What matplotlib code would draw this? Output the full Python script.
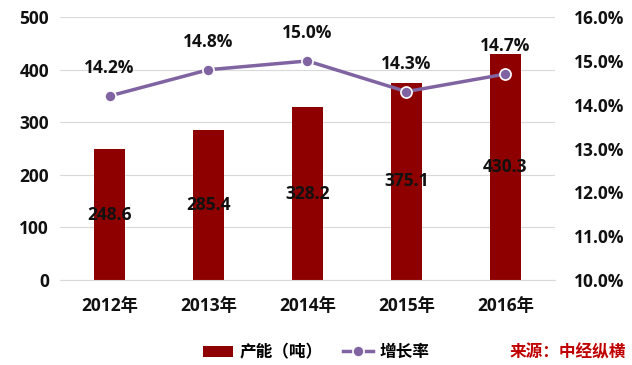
import matplotlib.pyplot as plt
import numpy as np

plt.rcParams["font.family"] = ["Open Sans", "Noto Sans CJK SC", "DejaVu Sans"]

years = ["2012年", "2013年", "2014年", "2015年", "2016年"]
capacity = [248.6, 285.4, 328.2, 375.1, 430.3]
growth = [14.2, 14.8, 15.0, 14.3, 14.7]

bar_color = "#8E0000"
line_color = "#8064A2"

fig = plt.figure(figsize=(6.32, 3.65), dpi=100)
ax = fig.add_axes([0.095, 0.233, 0.783, 0.72])
ax2 = ax.twinx()

x = np.arange(len(years))
bars = ax.bar(x, capacity, width=0.31, color=bar_color, zorder=2, label="产能（吨）")
for xi, v in zip(x, capacity):
    ax.text(xi, v / 2, f"{v:.1f}", ha="center", va="center", fontsize=12.5,
            fontweight="bold", color="#111111", zorder=5)

ax.set_ylim(0, 500)
ax.set_yticks(range(0, 501, 100))
ax.set_xlim(-0.5, len(years) - 0.5)
ax.set_xticks(x)
ax.set_xticklabels(years)
ax.grid(axis="y", color="#D9D9D9", linewidth=0.8, zorder=0)
for s in ["top", "right", "left"]:
    ax.spines[s].set_visible(False)
ax.spines["bottom"].set_color("#D9D9D9")
ax.tick_params(length=0, labelsize=12.5, colors="#111111", pad=8)
ax.tick_params(axis="x", pad=12)
for lab in ax.get_xticklabels() + ax.get_yticklabels():
    lab.set_fontweight("bold")

line, = ax2.plot(x, growth, color=line_color, linewidth=2.5, marker="o",
                 markersize=8, markerfacecolor=line_color, markeredgecolor="white",
                 markeredgewidth=1.2, zorder=4, label="增长率")
for xi, g in zip(x, growth):
    ax2.annotate(f"{g:.1f}%", (xi, g), xytext=(0, 20), textcoords="offset points",
                 ha="center", va="center", fontsize=12.5, fontweight="bold", color="#111111")
ax2.set_ylim(10, 16)
ax2.set_yticks(np.arange(10, 16.1, 1))
ax2.set_yticklabels([f"{t:.1f}%" for t in np.arange(10, 16.1, 1)])
for s in ["top", "right", "left", "bottom"]:
    ax2.spines[s].set_visible(False)
ax2.tick_params(length=0, labelsize=12.5, colors="#111111", pad=14)
for lab in ax2.get_yticklabels():
    lab.set_fontweight("bold")

fig.legend(handles=[bars, line], loc="center", bbox_to_anchor=(0.5, 0.035), ncol=2,
           frameon=False, prop={"weight": "bold", "size": 12}, handlelength=1.8,
           columnspacing=1.2, handletextpad=0.4)
fig.text(0.99, 0.035, "来源：中经纵横", ha="right", va="center", color="#C00000",
         fontsize=12, fontweight="bold", style="italic")

fig.savefig("out.png", dpi=100)
